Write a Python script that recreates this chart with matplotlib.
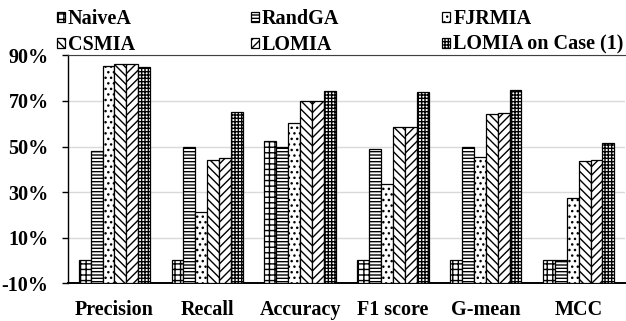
import numpy as np
import matplotlib
matplotlib.use('Agg')
import matplotlib.pyplot as plt

categories = ['Precision', 'Recall', 'Accuracy', 'F1 score', 'G-mean', 'MCC']
methods = ['NaiveA', 'RandGA', 'FJRMIA', 'CSMIA', 'LOMIA', 'LOMIA on Case (1)']

naivea = [0, 0, 52.4, 0, 0, 0]
randga = [48, 50, 50, 49, 50, 0]
fjrmia = [85.2, 21.4, 60.2, 33.7, 45.4, 27.4]
csmia = [86.2, 44.2, 70, 58.5, 64.2, 43.6]
lomia = [86.2, 44.9, 70, 58.5, 64.7, 44.2]
lomia_case = [85, 65.3, 74.4, 73.8, 75, 51.6]

yticks = [-10, 10, 30, 50, 70, 90]

series = [naivea, randga, fjrmia, csmia, lomia, lomia_case]
hatches = ['+++', '-----', '...', '\\\\\\\\', '////', '+++++']

plt.rcParams['font.family'] = ['Liberation Serif', 'DejaVu Serif']
plt.rcParams['font.weight'] = 'bold'
plt.rcParams['hatch.linewidth'] = 1.0

fig = plt.figure(figsize=(6.26, 3.21), dpi=100)
ax = fig.add_axes([0.1086, 0.1175, 0.89, 0.71])

x = np.arange(len(categories))
width = 0.128
base = yticks[0]
handles = []
for i, (vals, h) in enumerate(zip(series, hatches)):
    vals = np.array(vals)
    b = ax.bar(x + (i - 2.5) * width, vals - base, width, bottom=base,
               color='white', edgecolor='black', linewidth=0.9, hatch=h,
               label=methods[i], zorder=3)
    handles.append(b)

ax.set_xlim(-0.5, len(categories) - 0.5)
ax.set_ylim(yticks[0], yticks[-1])
ax.set_yticks(yticks)
ax.set_yticklabels([f'{t}%' for t in yticks])
ax.set_xticks(x)
ax.set_xticklabels(categories)
ax.tick_params(axis='x', length=0, pad=12, labelsize=14.5)
ax.tick_params(axis='y', length=4, width=1, pad=10, labelsize=14.5)
ax.yaxis.grid(True, color='#d9d9d9', linewidth=1, zorder=0)
ax.set_axisbelow(True)

ax.spines['right'].set_visible(False)
ax.spines['top'].set_color('#404040')
ax.spines['left'].set_linewidth(1)
ax.spines['bottom'].set_linewidth(1.4)

# legend in three fixed columns, two rows each
col_x = [0.084, 0.394, 0.700]
for c in range(3):
    leg = fig.legend(handles=[handles[c], handles[c + 3]],
                     labels=[methods[c], methods[c + 3]],
                     loc='upper left', bbox_to_anchor=(col_x[c], 0.985),
                     frameon=False, fontsize=14.5, handlelength=0.4,
                     handleheight=0.4, handletextpad=0.15, labelspacing=0.3,
                     borderpad=0.2, borderaxespad=0)

fig.savefig('out.png', dpi=100)
